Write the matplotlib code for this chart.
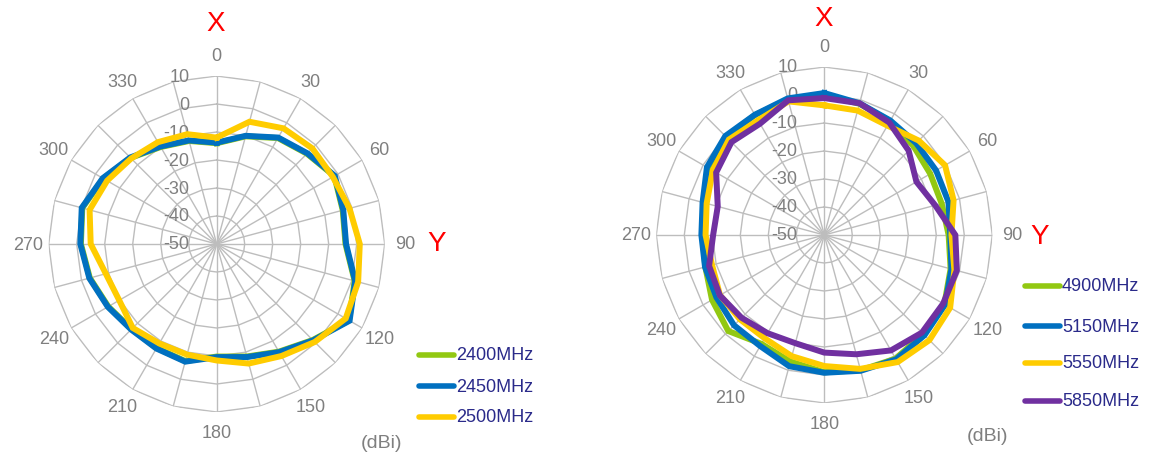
import matplotlib
matplotlib.use("Agg")
import matplotlib.pyplot as plt
import matplotlib.transforms as mtransforms
from matplotlib.lines import Line2D
import numpy as np

plt.rcParams['font.family'] = ['Liberation Sans', 'DejaVu Sans']

# uhly 0..345 po 15 stupnich
uhly = list(range(0, 360, 15))
uhel_popisky = list(range(0, 360, 30))
r_ticks = [10, 0, -10, -20, -30, -40, -50]

# 2.4 GHz pasmo [dBi]
f_24 = ['2400MHz', '2450MHz', '2500MHz']
g_2400 = [-14.0, -10.2, -6.3, -4.4, -1.5, -3.4, -4.0, 1.0, 4.6, -1.5, -5.6, -8.4,
          -9.8, -6.7, -7.1, -7.0, -5.3, -3.1, -1.5, -0.3, -3.2, -6.5, -10.0, -11.9]
g_2450 = [-13.8, -10.0, -6.1, -4.2, -1.3, -3.2, -3.8, 1.2, 4.8, -1.3, -5.4, -8.2,
          -9.6, -6.5, -6.9, -6.8, -5.1, -2.9, -1.3, -0.1, -3.0, -6.3, -9.8, -11.7]
g_2500 = [-12.0, -4.8, -2.3, -1.7, -2.1, -0.9, 1.1, 2.3, 3.2, -0.5, -3.8, -5.8,
          -8.4, -9.1, -9.0, -7.6, -9.8, -9.0, -5.0, -3.0, -4.8, -6.8, -8.0, -9.4]

# 5 GHz pasmo [dBi]
f_5 = ['4900MHz', '5150MHz', '5550MHz', '5850MHz']
g_4900 = [0.0, -1.5, -3.0, -5.0, -6.3, -6.6, -5.6, -3.3, -0.5, 0.0, 1.0, 0.0,
          -1.0, -3.2, -5.1, -1.5, -3.7, -6.0, -6.5, -5.5, -2.0, -0.5, -0.5, 0.0]
g_5150 = [0.7, -1.3, -2.8, -3.6, -3.9, -4.1, -5.0, -3.0, -0.2, 0.6, 1.3, 0.2,
          -0.8, -1.5, -4.2, -4.4, -5.5, -5.9, -6.1, -5.0, -1.6, 0.0, -0.4, 0.5]
g_5550 = [-3.7, -4.0, -4.9, -2.3, -0.2, -2.2, -4.6, -1.9, 1.9, 3.1, 2.4, -0.5,
          -3.2, -5.2, -7.4, -7.4, -7.0, -8.5, -7.6, -6.5, -4.0, -1.8, -2.7, -0.6]
g_5850 = [-1.1, -1.3, -3.6, -7.4, -12.0, -9.0, -3.2, -1.0, -1.0, -0.7, -2.4, -5.9,
          -8.0, -10.0, -9.5, -8.2, -6.9, -7.4, -10.3, -10.6, -5.4, -3.1, -4.1, -0.2]

barvy_24 = ['#92C812', '#0070C0', '#FFCC00']
barvy_5 = ['#92C812', '#0070C0', '#FFCC00', '#7030A0']

SEDA = '#7F7F7F'
MRIZKA = '#BDBDBD'
TEXT_LEG = '#2A2A8A'

W, H = 1152, 460
fig = plt.figure(figsize=(W / 100, H / 100), dpi=100)


def radar(cx, cy, R, data, barvy):
    ax = fig.add_axes([(cx - R) / W, (H - cy - R) / H, 2 * R / W, 2 * R / H],
                      projection='polar')
    ax.set_theta_zero_location('N')
    ax.set_theta_direction(-1)
    ax.set_ylim(-50, 10)
    ax.grid(False)
    ax.spines['polar'].set_visible(False)
    ax.set_xticks([])
    ax.set_yticks([])
    ax.patch.set_alpha(0)

    th = np.deg2rad(uhly + [uhly[0]])
    # mrizka - 24-uhelniky
    for rv in r_ticks[:-1]:
        ax.plot(th, [rv] * len(th), color=MRIZKA, lw=1.0, zorder=1)
    for t in np.deg2rad(uhly):
        ax.plot([t, t], [-50, 10], color=MRIZKA, lw=1.0, zorder=1)

    # popisky uhlu
    for u in uhel_popisky:
        ax.text(np.deg2rad(u), 17.2, str(u), ha='center', va='center',
                fontsize=13, color=SEDA, clip_on=False)
    # popisky radialni osy
    off = mtransforms.offset_copy(ax.transData, fig=fig, x=-27, y=0, units='dots')
    for rv in r_ticks:
        ax.text(0, rv, str(rv), ha='right', va='center', fontsize=13,
                color=SEDA, transform=off, zorder=2)

    for g, c in zip(data, barvy):
        ax.plot(th, g + [g[0]], color=c, lw=4.3, solid_joinstyle='miter', zorder=3)
    return ax


radar(216.7, 245, 168, [g_2400, g_2450, g_2500], barvy_24)
radar(824.3, 236, 168, [g_4900, g_5150, g_5550, g_5850], barvy_5)

# X / Y popisky
fig.text(216 / W, 1 - 24 / H, 'X', color='red', fontsize=20, ha='center', va='center')
fig.text(437 / W, 1 - 244 / H, 'Y', color='red', fontsize=20, ha='center', va='center')
fig.text(824 / W, 1 - 19 / H, 'X', color='red', fontsize=20, ha='center', va='center')
fig.text(1040 / W, 1 - 237 / H, 'Y', color='red', fontsize=20, ha='center', va='center')

# jednotky
fig.text(382 / W, 1 - 444 / H, '(dBi)', color=SEDA, fontsize=14, ha='center', va='center')
fig.text(987 / W, 1 - 437 / H, '(dBi)', color=SEDA, fontsize=14, ha='center', va='center')


def legenda(x0, x1, ys, popisky, barvy):
    for y, lab, c in zip(ys, popisky, barvy):
        fig.add_artist(Line2D([x0 / W, x1 / W], [1 - y / H, 1 - y / H], color=c,
                              lw=4, solid_capstyle='round', transform=fig.transFigure))
        fig.text((x1 + 2) / W, 1 - y / H, lab, color=TEXT_LEG, fontsize=13,
                 ha='left', va='center')


legenda(419, 454, [356, 387, 418], f_24, barvy_24)
legenda(1025, 1060, [287, 327, 364, 402], f_5, barvy_5)

fig.savefig('out.png', dpi=100)
